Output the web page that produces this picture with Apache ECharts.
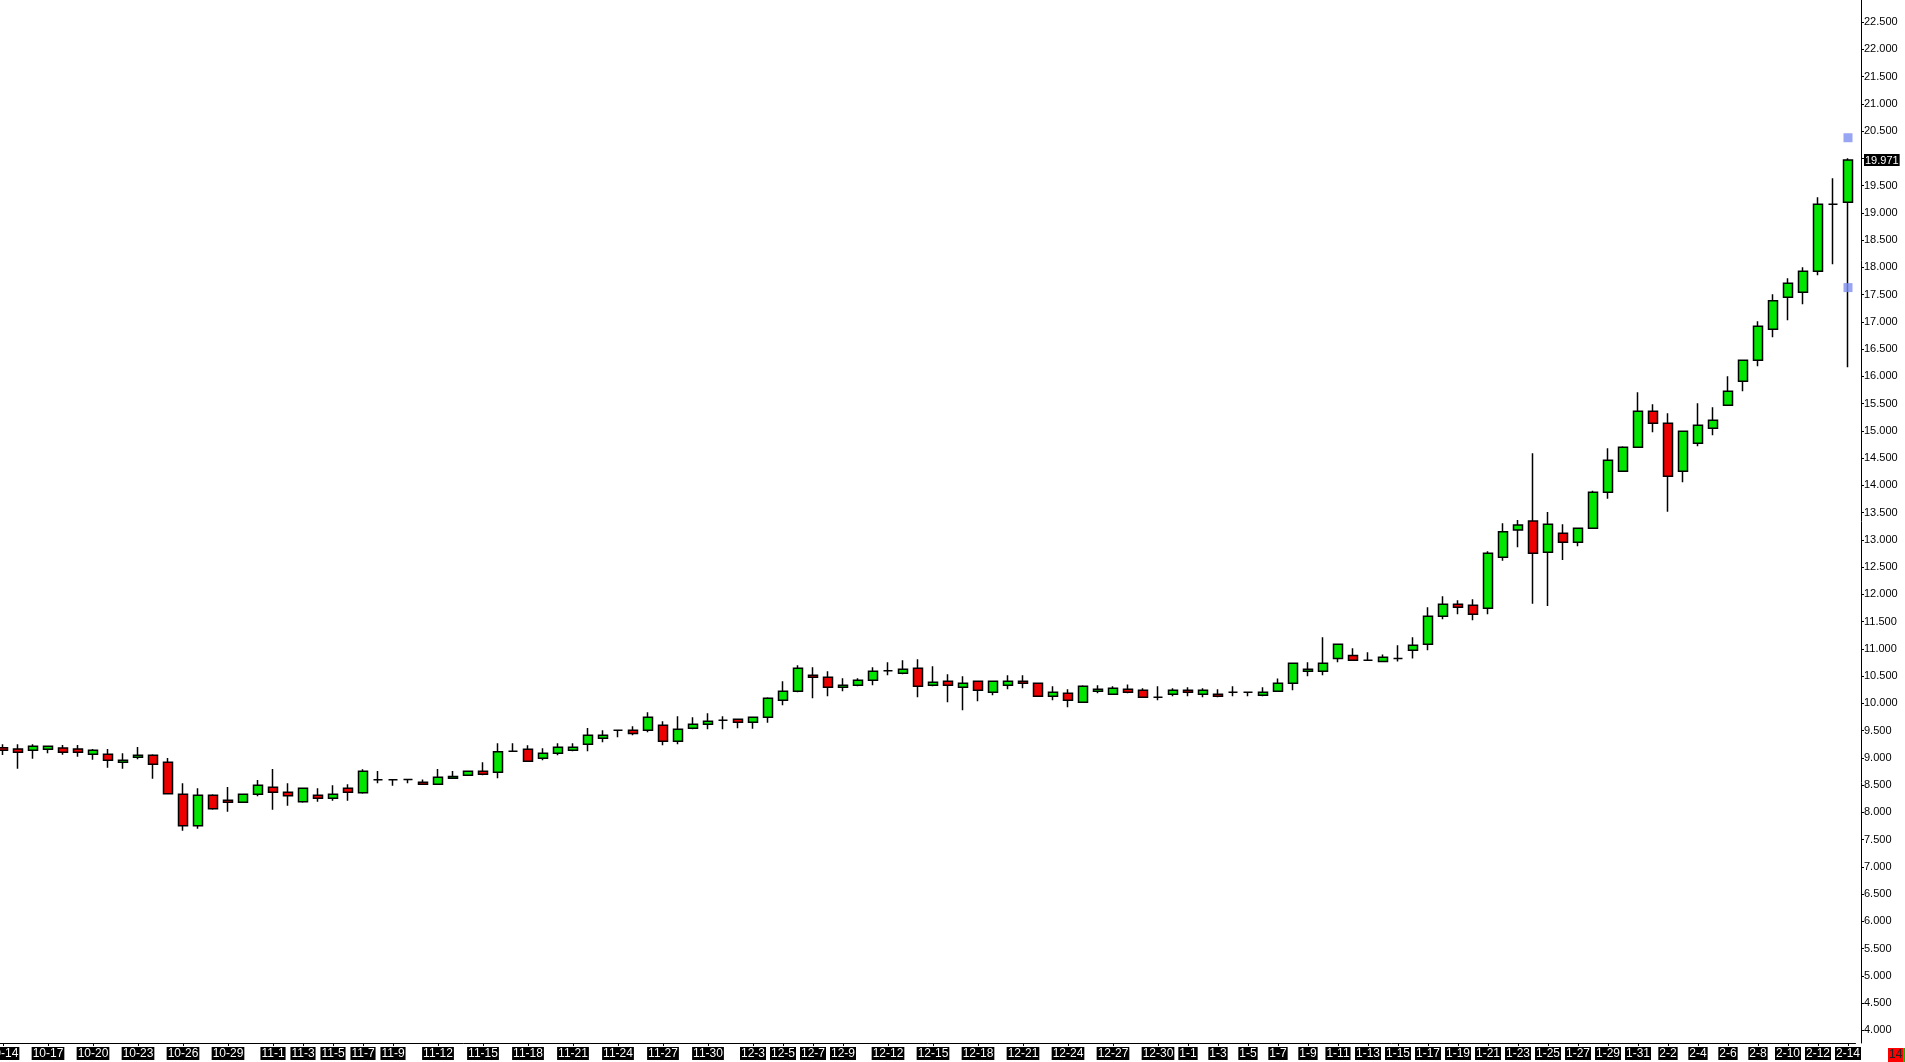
<!DOCTYPE html>
<html>
<head>
<meta charset="utf-8">
<script src="https://cdn.jsdelivr.net/npm/echarts@6/dist/echarts.min.js"></script>
<style>
html,body{margin:0;padding:0;background:#fff;}
#chart{width:1905px;height:1062px;}
</style>
</head>
<body>
<div id="chart"></div>
<script>
const dates = [
'10-14','10-15','10-16','10-17','10-18','10-19','10-20','10-21','10-22','10-23','10-24','10-25','10-26','10-27','10-28','10-29','10-30','10-31',
'11-1','11-2','11-3','11-4','11-5','11-6','11-7','11-8','11-9','11-10','11-11','11-12','11-13','11-14','11-15','11-16','11-17','11-18','11-19','11-20','11-21','11-22','11-23','11-24','11-25','11-26','11-27','11-28','11-29','11-30',
'12-1','12-2','12-3','12-4','12-5','12-6','12-7','12-8','12-9','12-10','12-11','12-12','12-13','12-14','12-15','12-16','12-17','12-18','12-19','12-20','12-21','12-22','12-23','12-24','12-25','12-26','12-27','12-28','12-29','12-30','12-31',
'1-1','1-2','1-3','1-4','1-5','1-6','1-7','1-8','1-9','1-10','1-11','1-12','1-13','1-14','1-15','1-16','1-17','1-18','1-19','1-20','1-21','1-22','1-23','1-24','1-25','1-26','1-27','1-28','1-29','1-30','1-31',
'2-1','2-2','2-3','2-4','2-5','2-6','2-7','2-8','2-9','2-10','2-11','2-12','2-13','2-14'
];
const labeledDates = ['10-14','10-17','10-20','10-23','10-26','10-29','11-1','11-3','11-5','11-7','11-9','11-12','11-15','11-18','11-21','11-24','11-27','11-30','12-3','12-5','12-7','12-9','12-12','12-15','12-18','12-21','12-24','12-27','12-30','1-1','1-3','1-5','1-7','1-9','1-11','1-13','1-15','1-17','1-19','1-21','1-23','1-25','1-27','1-29','1-31','2-2','2-4','2-6','2-8','2-10','2-12','2-14'];

const opens = [9.188,9.164,9.14,9.158,9.182,9.164,9.066,9.066,8.919,9.011,9.048,8.919,8.332,7.757,8.314,8.222,8.185,8.332,
8.461,8.369,8.198,8.314,8.259,8.442,8.363,8.6,8.601,8.607,8.552,8.516,8.626,8.681,8.754,8.736,9.121,9.158,8.993,9.085,9.14,9.25,9.36,9.507,9.507,9.507,9.598,9.305,9.543,9.617,
9.69,9.708,9.654,9.746,10.057,10.223,10.516,10.48,10.296,10.333,10.424,10.602,10.553,10.645,10.333,10.406,10.296,10.406,10.204,10.333,10.406,10.37,10.131,10.186,10.021,10.223,10.168,10.259,10.24,10.112,10.167,
10.24,10.167,10.167,10.204,10.204,10.149,10.222,10.369,10.589,10.589,10.827,10.882,10.791,10.772,10.827,10.974,11.084,11.598,11.818,11.8,11.745,12.681,13.183,13.348,12.773,13.121,12.956,13.213,13.874,14.259,14.7,
15.36,15.14,14.259,14.773,15.048,15.47,15.91,16.296,16.864,17.452,17.543,17.929,19.158,19.195];
const closes = [9.14,9.103,9.213,9.213,9.103,9.103,9.14,8.956,8.956,9.048,8.883,8.344,7.757,8.314,8.069,8.185,8.332,8.497,
8.369,8.308,8.442,8.259,8.332,8.369,8.754,8.6,8.601,8.607,8.516,8.644,8.662,8.754,8.699,9.115,9.121,8.938,9.085,9.195,9.195,9.415,9.415,9.507,9.451,9.745,9.305,9.525,9.617,9.672,
9.69,9.653,9.746,10.094,10.223,10.645,10.48,10.296,10.333,10.424,10.59,10.602,10.626,10.315,10.388,10.333,10.37,10.241,10.406,10.406,10.37,10.131,10.204,10.057,10.315,10.259,10.278,10.204,10.112,10.112,10.24,
10.204,10.24,10.13,10.204,10.204,10.204,10.369,10.736,10.626,10.736,11.084,10.791,10.791,10.846,10.827,11.066,11.598,11.818,11.763,11.635,12.754,13.152,13.274,12.754,13.287,12.956,13.213,13.874,14.461,14.7,15.36,
15.14,14.167,14.993,15.103,15.195,15.727,16.296,16.92,17.391,17.708,17.929,19.158,19.158,19.971];
const lows = [9.054,8.803,8.987,9.085,9.06,9.023,8.968,8.821,8.803,8.974,8.62,8.344,7.665,7.702,8.051,8.014,8.185,8.296,
8.051,8.124,8.179,8.198,8.216,8.216,8.344,8.534,8.491,8.534,8.516,8.516,8.626,8.681,8.681,8.626,9.121,8.938,8.956,9.048,9.121,9.121,9.286,9.378,9.415,9.47,9.231,9.25,9.525,9.525,
9.525,9.543,9.538,9.648,9.966,10.204,10.094,10.131,10.223,10.315,10.333,10.516,10.535,10.113,10.315,10.021,9.874,10.039,10.149,10.259,10.278,10.131,10.057,9.929,10.021,10.186,10.168,10.185,10.112,10.057,10.13,
10.13,10.112,10.112,10.13,10.13,10.13,10.222,10.24,10.497,10.516,10.754,10.791,10.791,10.772,10.772,10.827,10.974,11.543,11.635,11.525,11.635,12.62,12.864,11.83,11.79,12.63,12.883,13.213,13.757,14.259,14.7,
14.974,13.519,14.057,14.718,14.92,15.47,15.727,16.186,16.718,17.03,17.323,17.855,18.057,16.167];
const highs = [9.25,9.25,9.25,9.225,9.237,9.237,9.164,9.164,9.085,9.201,9.066,8.999,8.534,8.442,8.332,8.467,8.35,8.595,
8.797,8.534,8.442,8.442,8.497,8.516,8.791,8.76,8.601,8.607,8.607,8.797,8.76,8.767,8.919,9.268,9.268,9.231,9.176,9.268,9.268,9.549,9.507,9.507,9.58,9.837,9.672,9.763,9.745,9.818,
9.763,9.708,9.746,10.113,10.406,10.7,10.663,10.59,10.461,10.461,10.663,10.755,10.792,10.81,10.681,10.535,10.498,10.42,10.406,10.516,10.516,10.37,10.315,10.259,10.333,10.333,10.315,10.35,10.277,10.314,10.277,
10.296,10.277,10.259,10.314,10.204,10.296,10.46,10.736,10.754,11.213,11.084,11.011,10.938,10.9,11.066,11.213,11.763,11.965,11.892,11.91,12.791,13.305,13.366,14.589,13.513,13.287,13.213,13.904,14.681,14.718,15.708,
15.488,15.323,14.993,15.507,15.433,16.002,16.296,17.011,17.507,17.8,18.002,19.286,19.635,20.002];

const yTicks = [4,4.5,5,5.5,6,6.5,7,7.5,8,8.5,9,9.5,10,10.5,11,11.5,12,12.5,13,13.5,14,14.5,15,15.5,16,16.5,17,17.5,18,18.5,19,19.5,20,20.5,21,21.5,22,22.5];
const yLabels = [4,4.5,5,5.5,6,6.5,7,7.5,8,8.5,9,9.5,10,10.5,11,11.5,12,12.5,13,13.5,14,14.5,15,15.5,16,16.5,17,17.5,18,18.5,19,19.5,20.5,21,21.5,22,22.5];
const lastPrice = 19.971;
const markerDate = '2-14';
const markerValues = [20.38, 17.63];

const candleData = dates.map((d, i) => [opens[i], closes[i], lows[i], highs[i]]);
const markerData = markerValues.map(v => [markerDate, v]);
const labelSet = new Set(labeledDates);
const showLabel = (idx, val) => labelSet.has(val);

const chart = echarts.init(document.getElementById('chart'), null, {renderer: 'canvas'});
const FONT = 'Liberation Sans, Arial, sans-serif';
chart.setOption({
  animation: false,
  backgroundColor: '#ffffff',
  grid: {left: -4.5, right: 49.5, top: 0, bottom: 19, containLabel: false, outerBoundsMode: 'none'},
  xAxis: {
    type: 'category',
    data: dates,
    boundaryGap: true,
    axisLine: {show: true, lineStyle: {color: '#000', width: 1}},
    axisTick: {show: true, alignWithLabel: true, interval: showLabel, length: 3, lineStyle: {color: '#000'}},
    axisLabel: {
      interval: showLabel, color: '#fff', backgroundColor: '#000', padding: [1, 1, 0, 1],
      fontSize: 12, fontFamily: FONT, margin: 4, hideOverlap: false
    },
    splitLine: {show: false}
  },
  yAxis: {
    type: 'value',
    position: 'right',
    offset: 5.5,
    min: 3.77,
    max: 22.907,
    axisLine: {show: true, lineStyle: {color: '#000', width: 1}},
    axisTick: {show: true, length: 3, customValues: yTicks, lineStyle: {color: '#000'}},
    axisLabel: {
      customValues: yLabels.concat([lastPrice]),
      margin: 3,
      color: '#000',
      fontSize: 11,
      fontFamily: FONT,
      formatter: v => v === lastPrice ? '{hl|' + v.toFixed(3) + '}' : v.toFixed(3),
      rich: {hl: {color: '#fff', backgroundColor: '#000', padding: [1, 1, 0, 1], fontSize: 11, fontFamily: FONT}}
    },
    splitLine: {show: false}
  },
  series: [
    {
      type: 'candlestick',
      data: candleData,
      barWidth: 9,
      itemStyle: {
        color: '#00e600', color0: '#ee0000',
        borderColor: '#000', borderColor0: '#000', borderColorDoji: '#000',
        borderWidth: 1.5
      }
    },
    {
      type: 'scatter',
      data: markerData,
      symbol: 'rect',
      symbolSize: 9,
      itemStyle: {color: '#7d8ff0'},
      z: 5
    }
  ],
  graphic: [
    {type: 'rect', left: 1888, top: 1048, shape: {width: 15, height: 14}, style: {fill: '#ff0000'}},
    {type: 'rect', left: 1903, top: 1048, shape: {width: 2, height: 14}, style: {fill: '#00c000'}},
    {type: 'text', left: 1889, top: 1049, style: {text: '14', fill: '#222', font: '12px Liberation Sans'}}
  ]
});
</script>
</body>
</html>
